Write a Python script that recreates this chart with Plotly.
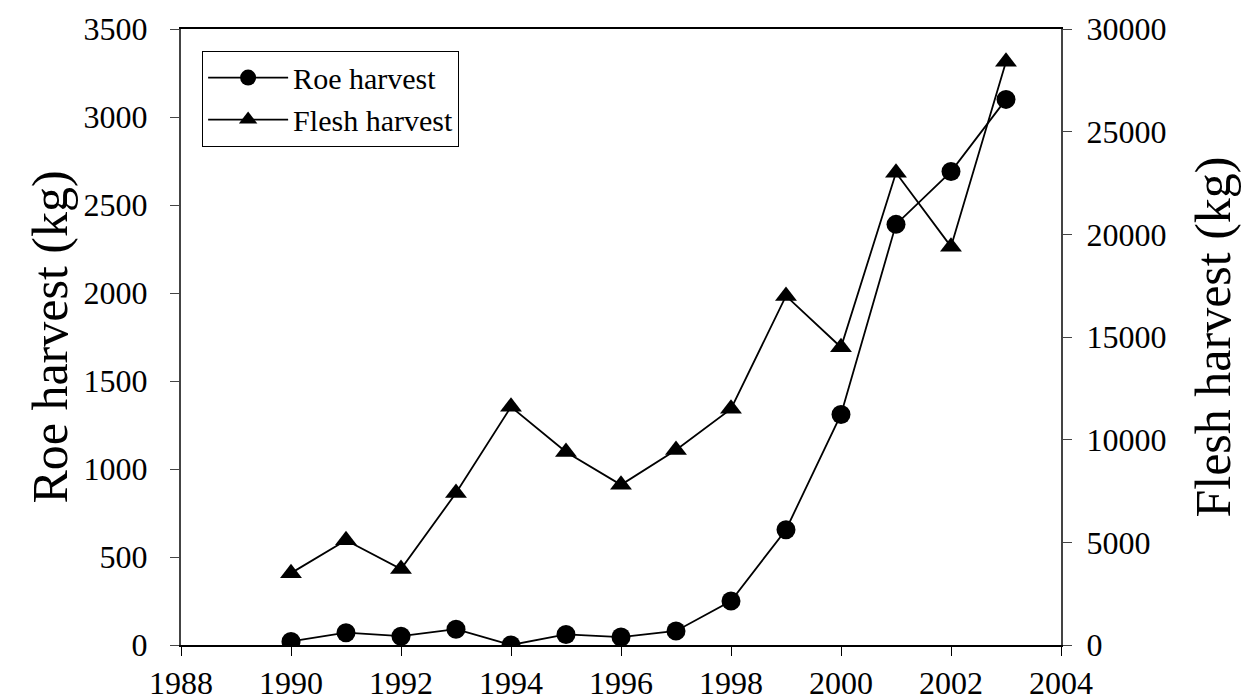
import plotly.graph_objects as go

# harvest per year
years = [1990, 1991, 1992, 1993, 1994, 1995, 1996, 1997, 1998, 1999, 2000, 2001, 2002, 2003]
roe_kg = [20, 70, 50, 90, 0, 60, 45, 80, 250, 655, 1310, 2390, 2690, 3100]
flesh_kg = [3500, 5100, 3700, 7400, 11600, 9400, 7800, 9500, 11500, 17000, 14500, 23000, 19400, 28400]

FONT = "Liberation Serif"

fig = go.Figure()

fig.add_trace(go.Scatter(
    x=years, y=roe_kg, name="Roe harvest", mode="lines+markers",
    line=dict(color="black", width=1.8),
    marker=dict(symbol="circle", size=19, color="black"),
    yaxis="y",
))
fig.add_trace(go.Scatter(
    x=years, y=flesh_kg, name="Flesh harvest", mode="lines+markers",
    line=dict(color="black", width=1.8),
    marker=dict(symbol="triangle-up", size=19, color="black"),
    yaxis="y2",
))

fig.update_layout(
    width=1252, height=700,
    margin=dict(l=173, r=199, t=21, b=63),
    paper_bgcolor="white", plot_bgcolor="white",
    font=dict(family=FONT, color="black", size=32),
    showlegend=True,
    legend=dict(
        x=0.024, y=0.965, xanchor="left", yanchor="top",
        bordercolor="black", borderwidth=1, bgcolor="white",
        font=dict(family=FONT, size=30), itemwidth=80,
    ),
    xaxis=dict(
        range=[1988, 2004], dtick=2, tick0=1988,
        showline=True, linecolor="black", linewidth=1.5, mirror=True,
        ticks="outside", ticklen=9, tickcolor="black",
        showgrid=False, zeroline=False, automargin=False,
    ),
    yaxis=dict(
        range=[0, 3500], dtick=500, tick0=0,
        showline=True, linecolor="#444", linewidth=2,
        ticks="outside", ticklen=9, tickcolor="#444", ticklabelstandoff=16,
        showgrid=False, zeroline=False, automargin=False,
        title=dict(text="Roe harvest (kg)", font=dict(size=50), standoff=0),
    ),
    yaxis2=dict(
        range=[0, 30000], dtick=5000, tick0=0, tickformat="d",
        overlaying="y", side="right",
        showline=True, linecolor="#444", linewidth=2,
        ticks="outside", ticklen=9, tickcolor="#444", ticklabelstandoff=8,
        showgrid=False, zeroline=False, automargin=False,
        title=dict(text="Flesh harvest (kg)", font=dict(size=50), standoff=30),
    ),
)

fig.write_html("out.html")
